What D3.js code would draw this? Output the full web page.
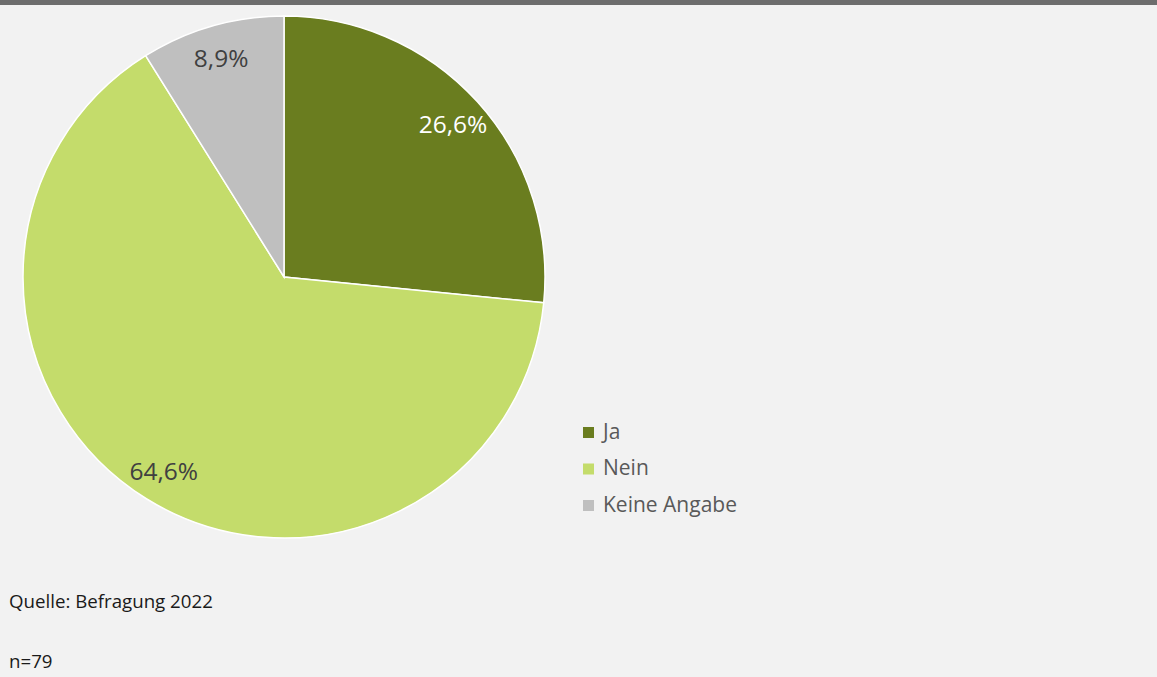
<!DOCTYPE html>
<html>
<head>
<meta charset="utf-8">
<script src="https://cdn.jsdelivr.net/npm/d3@7"></script>
<style>
  html, body { margin: 0; padding: 0; background: #f2f2f2; }
  svg { display: block; }
</style>
</head>
<body>
<svg id="chart" width="1157" height="677"></svg>
<script>
// Antworten (Anteile in Prozent)
const categories = ["Ja", "Nein", "Keine Angabe"];
const shares = [26.6, 64.6, 8.9];
const colors = ["#6a7d1f", "#c4dc6b", "#bfbfbf"];
const labelColors = ["#ffffff", "#404040", "#404040"];
const sourceText = "Quelle: Befragung 2022";
const sampleText = "n=79";

const svg = d3.select("#chart");
const W = 1157, H = 677;

svg.append("rect").attr("width", W).attr("height", H).attr("fill", "#f2f2f2");
svg.append("rect").attr("width", W).attr("height", 5).attr("fill", "#6d6d6d");

const cx = 284, cy = 277, R = 261;
const data = categories.map((c, i) => ({ name: c, value: shares[i], i }));

const pie = d3.pie().value(d => d.value).sort(null);
const arc = d3.arc().innerRadius(0).outerRadius(R);
const labelArc = d3.arc().innerRadius(228).outerRadius(228);
const fmt = v => d3.format(".1f")(v).replace(".", ",") + "%";

const g = svg.append("g").attr("transform", `translate(${cx},${cy})`);
const arcs = pie(data);

g.selectAll("path").data(arcs).join("path")
  .attr("d", arc)
  .attr("fill", d => colors[d.data.i])
  .attr("stroke", "#ffffff")
  .attr("stroke-width", 1.5);

g.selectAll("text").data(arcs).join("text")
  .attr("transform", d => `translate(${labelArc.centroid(d)})`)
  .attr("text-anchor", "middle")
  .attr("dy", "0.38em")
  .attr("font-family", "'Open Sans', sans-serif")
  .attr("font-size", 24.5)
  .attr("fill", d => labelColors[d.data.i])
  .text(d => fmt(d.data.value));

// Legende
const legend = svg.append("g").attr("transform", "translate(583,427)");
const item = legend.selectAll("g").data(data).join("g")
  .attr("transform", (d, i) => `translate(0,${i * 36.5})`);
item.append("rect").attr("width", 11).attr("height", 11)
  .attr("fill", d => colors[d.i]);
item.append("text").attr("x", 20).attr("y", 11.5)
  .attr("font-family", "'Open Sans', sans-serif")
  .attr("font-size", 21)
  .attr("fill", "#595959")
  .text(d => d.name);

// Quelle und Stichprobengröße
svg.append("text").attr("x", 9).attr("y", 608)
  .attr("font-family", "'Open Sans', sans-serif")
  .attr("font-size", 18.7)
  .attr("fill", "#1a1a1a")
  .text(sourceText);
svg.append("text").attr("x", 9).attr("y", 668)
  .attr("font-family", "'Open Sans', sans-serif")
  .attr("font-size", 18.7)
  .attr("fill", "#1a1a1a")
  .text(sampleText);
</script>
</body>
</html>
